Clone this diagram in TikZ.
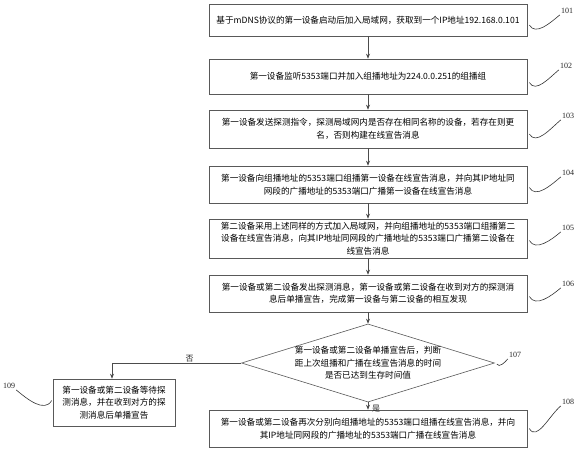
\documentclass[tikz,border=0pt]{standalone}
\usepackage{fontspec}
\setmainfont{Liberation Serif}
\newfontfamily\cjk{Noto Sans CJK SC}
\usepackage{tikz}
\usetikzlibrary{arrows.meta,shapes.geometric}

\tikzset{
	stepbox/.style={draw=black!65, line width=0.6pt, minimum width=318pt, align=center,
		font=\cjk\fontsize{8.6}{12.5}\selectfont, text=black, inner sep=2pt},
	decision/.style={draw=black!65, line width=0.6pt, diamond, aspect=3.24, inner sep=0pt,
		minimum width=214pt, minimum height=66pt, align=center,
		font=\cjk\fontsize{8.6}{12.5}\selectfont, text=black},
	flow/.style={draw=black!70, line width=0.6pt, -{Stealth[length=5pt,width=4pt]}},
	tag/.style={font=\fontsize{8}{9}\selectfont, text=black!85, inner sep=1pt},
	wiggle/.style={draw=black!80, line width=0.6pt},
	yesno/.style={font=\cjk\fontsize{8}{9}\selectfont, text=black!85, inner sep=1pt}
}

\begin{document}
\begin{tikzpicture}[x=1pt, y=-1pt]
	\useasboundingbox (0,0) rectangle (575,450);

	\node[stepbox, minimum height=32pt] (b1) at (368,20) {基于mDNS协议的第一设备启动后加入局域网，获取到一个IP地址192.168.0.101};
	\node[stepbox, minimum height=35pt] (b2) at (368,76.5) {第一设备监听5353端口并加入组播地址为224.0.0.251的组播组};
	\node[stepbox, minimum height=38pt] (b3) at (368,129) {第一设备发送探测指令，探测局域网内是否存在相同名称的设备，若存在则更\\名，否则构建在线宣告消息};
	\node[stepbox, minimum height=37pt] (b4) at (368,184.5) {第一设备向组播地址的5353端口组播第一设备在线宣告消息，并向其IP地址同\\网段的广播地址的5353端口广播第一设备在线宣告消息};
	\node[stepbox, minimum height=39pt] (b5) at (368,238.5) {第二设备采用上述同样的方式加入局域网，并向组播地址的5353端口组播第二\\设备在线宣告消息，向其IP地址同网段的广播地址的5353端口广播第二设备在\\线宣告消息};
	\node[stepbox, minimum height=37pt] (b6) at (368,293.5) {第一设备或第二设备发出探测消息，第一设备或第二设备在收到对方的探测消\\息后单播宣告，完成第一设备与第二设备的相互发现};
	\node[decision] (b7) at (368,363) {第一设备或第二设备单播宣告后，判断\\距上次组播和广播在线宣告消息的时间\\是否已达到生存时间值};
	\node[stepbox, minimum height=37pt] (b8) at (368,428.5) {第一设备或第二设备再次分别向组播地址的5353端口组播在线宣告消息，并向\\其IP地址同网段的广播地址的5353端口广播在线宣告消息};
	\node[stepbox, minimum width=122pt, minimum height=47pt] (b9) at (114,402.5) {第一设备或第二设备等待探\\测消息，并在收到对方的探\\测消息后单播宣告};

	% step numbers
	\node[tag] (l101) at (567,11) {101};
	\node[tag] (l102) at (566,66) {102};
	\node[tag] (l103) at (568,116) {103};
	\node[tag] (l104) at (568,173) {104};
	\node[tag] (l105) at (568,228) {105};
	\node[tag] (l106) at (568,284) {106};
	\node[tag] (l107) at (515,355) {107};
	\node[tag] (l108) at (568,402) {108};
	\node[tag] (l109) at (9,386) {109};

	\draw[flow] (b1) -- (b2);
	\draw[flow] (b2) -- (b3);
	\draw[flow] (b3) -- (b4);
	\draw[flow] (b4) -- (b5);
	\draw[flow] (b5) -- (b6);
	\draw[flow] (b6) -- (b7);
	\draw[flow] (b7) -- (b8);
	\node[yesno, anchor=west] (yes) at ([shift={(3,6)}]b7.south) {是};
	\draw[flow] (b7.west) -- node[yesno, above, pos=0.4] (no) {否} (112,363) -- (b9.north -| 112,363);

	\draw[wiggle] ([shift={(2,5)}]b1.east) to[out=-60, in=-140] (l101.south west);
	\draw[wiggle] ([shift={(2,6)}]b2.east) to[out=-60, in=-140] (l102.south west);
	\draw[wiggle] ([shift={(2,5)}]b3.east) to[out=-60, in=-140] (l103.south west);
	\draw[wiggle] ([shift={(2,3)}]b4.east) to[out=-60, in=-140] (l104.south west);
	\draw[wiggle] ([shift={(2,2)}]b5.east) to[out=-60, in=-140] (l105.south west);
	\draw[wiggle] ([shift={(2,3)}]b6.east) to[out=-60, in=-140] (l106.south west);
	\draw[wiggle] ([shift={(2,1)}]b7.east) to[out=-60, in=-130] (l107.south west);
	\draw[wiggle] ([shift={(2,0)}]b8.east) to[out=-60, in=-140] (l108.south west);
	\draw[wiggle] (l109.south east) to[out=-40, in=-120] ([shift={(-1,-2)}]b9.west);
\end{tikzpicture}
\end{document}
